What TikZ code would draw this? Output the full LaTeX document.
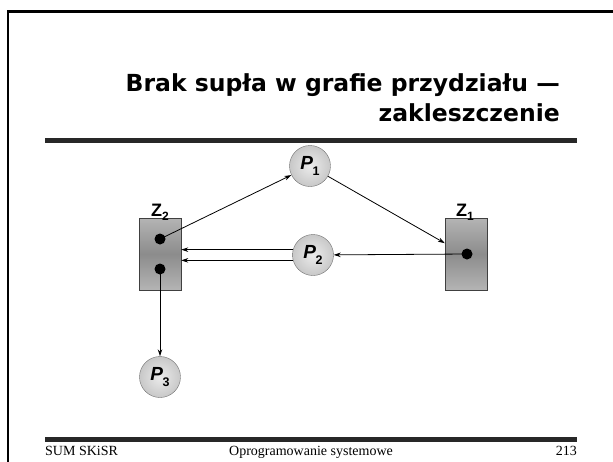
\documentclass[tikz,border=0pt]{standalone}
\usepackage{fontspec}
\setmainfont{Liberation Serif}
\setsansfont{Liberation Sans}
\newfontfamily\titlefont{DejaVu Sans}
\usetikzlibrary{arrows.meta, positioning, calc}
\definecolor{ballgray}{RGB}{222,222,222}
\definecolor{ballrim}{RGB}{110,110,110}
\definecolor{boxlight}{RGB}{180,180,180}
\definecolor{boxdark}{RGB}{140,140,140}
\definecolor{rulegray}{RGB}{40,40,40}
\newcommand{\proc}[2]{{\sffamily\bfseries\itshape #1}\kern-0.5pt\raisebox{-0.3em}{\sffamily\bfseries\fontsize{12.5}{12.5}\selectfont #2}}
\newcommand{\resname}[2]{{\sffamily\bfseries #1}\raisebox{-0.25em}{\sffamily\bfseries\fontsize{12}{12}\selectfont #2}}

\begin{document}
\begin{tikzpicture}[
  x=1pt, y=-1pt,
  proc/.style={circle, draw=ballrim, thin, inner sep=0pt, minimum size=41pt,
    inner color=ballgray!60, outer color=ballgray!90!black, font=\fontsize{19}{19}\selectfont},
  res/.style={draw=black!75, thin, minimum width=42pt, minimum height=72pt,
    top color=boxlight, bottom color=boxlight, middle color=boxdark},
  dot/.style={circle, fill=black, inner sep=0pt, minimum size=11pt},
  arr/.style={-{Stealth[length=7pt, width=4.5pt]}, line width=0.8pt},
  lab/.style={font=\fontsize{18}{18}\selectfont, inner sep=0pt},
  foot/.style={inner sep=0pt, font=\fontsize{14}{14}\selectfont},
]
  \useasboundingbox (0,0) rectangle (613,461);
  % frame
  \draw[line width=2.8pt] (8,463) -- (8,11.5) -- (615,11.5);

  % title and rules
  \node[anchor=base east, align=right, inner sep=0pt,
    font=\titlefont\bfseries\fontsize{23.5}{30}\selectfont] (title) at (560,121)
    {Brak supła w grafie przydziału —\\zakleszczenie};
  \fill[rulegray] (45,138) rectangle (577,143);
  \fill[rulegray] (45,437) rectangle (577,442);
  \node[foot, anchor=base west] (ftl) at (45,455) {SUM SKiSR};
  \node[foot, anchor=base] (ftc) at (311,455) {Oprogramowanie systemowe};
  \node[foot, anchor=base east] (ftr) at (577,455) {213};

  % resources
  \node[res] (z2) at (160,254) {};
  \node[res] (z1) at (466,254) {};
  \node[lab, anchor=base] (z2lab) at (160,216) {\resname{Z}{2}};
  \node[lab, anchor=base] (z1lab) at (465,216) {\resname{Z}{1}};
  \node[dot] (z2a) at (160,239) {};
  \node[dot] (z2b) at (160,269) {};
  \node[dot] (z1a) at (467,254) {};

  % processes
  \node[proc] (p1) at (310,166) {\proc{P}{1}};
  \node[proc] (p2) at (313,255) {\proc{P}{2}};
  \node[proc] (p3) at (160,377) {\proc{P}{3}};

  \coordinate (z1in) at ($(z1.north west)!0.35!(z1.south west)$);

  \draw[arr] (z2a.center) -- (p1);
  \draw[arr] (p1) -- (z1in);
  \draw[arr] (z1a.center) -- (p2);
  \draw[arr] (p2.165) -- (z2.east |- p2.165);
  \draw[arr] (p2.195) -- (z2.east |- p2.195);
  \draw[arr] (z2b.center) -- (p3);
\end{tikzpicture}
\end{document}
